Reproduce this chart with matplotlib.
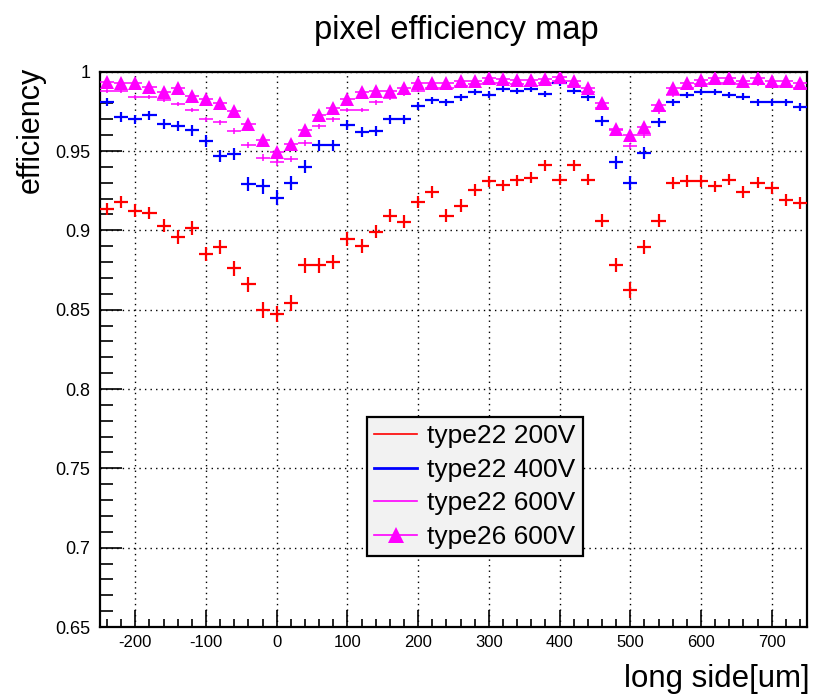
import numpy as np
import matplotlib
matplotlib.use("Agg")
import matplotlib.pyplot as plt
from matplotlib.lines import Line2D
from matplotlib.ticker import MultipleLocator, FixedLocator, FixedFormatter

plt.rcParams['font.family'] = ['Liberation Sans', 'DejaVu Sans']
plt.rcParams['axes.unicode_minus'] = False

# bin centres along the long pixel side [um]
position = np.arange(-240, 741, 20)

eff_t22_200 = [0.9135, 0.918, 0.9125, 0.911, 0.903, 0.8956, 0.9015, 0.885, 0.8897, 0.876,
               0.866, 0.8498, 0.8475, 0.8544, 0.878, 0.878, 0.880, 0.8946, 0.8903, 0.8992,
               0.9093, 0.9055, 0.9177, 0.924, 0.9093, 0.9156, 0.9256, 0.9308, 0.9283, 0.9315,
               0.9332, 0.941, 0.9319, 0.941, 0.9319, 0.9061, 0.8781, 0.8623, 0.8897, 0.9061,
               0.9298, 0.931, 0.931, 0.9277, 0.9319, 0.924, 0.930, 0.9266, 0.9192, 0.9173]

eff_t22_400 = [0.981, 0.9715, 0.970, 0.9726, 0.9669, 0.9656, 0.963, 0.9563, 0.9468, 0.9483,
               0.929, 0.9277, 0.9205, 0.9298, 0.940, 0.9536, 0.9536, 0.9663, 0.962, 0.9627,
               0.9699, 0.9699, 0.9783, 0.982, 0.9806, 0.9838, 0.9873, 0.9855, 0.989, 0.9878,
               0.989, 0.986, 0.9926, 0.9878, 0.984, 0.969, 0.943, 0.9298, 0.9488, 0.968,
               0.9806, 0.9853, 0.987, 0.9873, 0.9853, 0.9842, 0.9806, 0.9806, 0.9806, 0.9779]

eff_t22_600 = [0.9878, 0.9878, 0.9842, 0.9842, 0.982, 0.9796, 0.9758, 0.970, 0.968, 0.9627,
               0.9536, 0.9458, 0.943, 0.945, 0.955, 0.9656, 0.970, 0.9758, 0.9758, 0.9806,
               0.9832, 0.986, 0.988, 0.990, 0.990, 0.991, 0.992, 0.993, 0.993, 0.992,
               0.991, 0.993, 0.994, 0.991, 0.987, 0.977, 0.963, 0.953, 0.960, 0.975,
               0.985, 0.990, 0.992, 0.993, 0.993, 0.992, 0.992, 0.991, 0.991, 0.990]

eff_t26_600 = [0.9937, 0.993, 0.993, 0.9905, 0.987, 0.9895, 0.9846, 0.983, 0.980, 0.975,
               0.967, 0.957, 0.9494, 0.9547, 0.963, 0.9726, 0.977, 0.9825, 0.9873, 0.988,
               0.988, 0.9895, 0.993, 0.993, 0.9926, 0.9943, 0.9943, 0.9958, 0.9954, 0.9947,
               0.9947, 0.9954, 0.9964, 0.994, 0.990, 0.9804, 0.964, 0.960, 0.965, 0.979,
               0.9895, 0.993, 0.9947, 0.9958, 0.9958, 0.9943, 0.9958, 0.9943, 0.9943, 0.993]

# tracks per bin for each run, used for the binomial uncertainty
tracks_t22_200 = 5000
tracks_t22_400 = 3300
tracks_t22_600 = 11000
tracks_t26_600 = 11000

labels = ["type22 200V", "type22 400V", "type22 600V", "type26 600V"]
xtick_vals = [-200, -100, 0, 100, 200, 300, 400, 500, 600, 700]
ytick_vals = [0.65, 0.7, 0.75, 0.8, 0.85, 0.9, 0.95, 1.0]
ytick_text = ["0.65", "0.7", "0.75", "0.8", "0.85", "0.9", "0.95", "1"]

half_bin = 10


def binom_err(eff, n):
    e = np.asarray(eff)
    return np.sqrt(e * (1 - e) / n)


W, H = 815, 695
fig = plt.figure(figsize=(W / 100, H / 100), dpi=100)
ax = fig.add_axes([100 / W, 1 - 627 / H, 707 / W, (627 - 71.7) / H])

ax.set_xlim(-250, 750)
ax.set_ylim(0.65, 1.0)

# dotted grid at major ticks
ax.grid(True, which='major', color='black', linestyle=(0, (1, 3)), linewidth=1.0)
ax.set_axisbelow(True)

ax.errorbar(position, eff_t22_200, xerr=half_bin, yerr=binom_err(eff_t22_200, tracks_t22_200),
            fmt='none', ecolor='#ff0000', elinewidth=1.6, capsize=0, zorder=3)
ax.errorbar(position, eff_t22_400, xerr=half_bin, yerr=binom_err(eff_t22_400, tracks_t22_400),
            fmt='none', ecolor='#0000ff', elinewidth=1.6, capsize=0, zorder=3)
ax.errorbar(position, eff_t22_600, xerr=half_bin, yerr=binom_err(eff_t22_600, tracks_t22_600),
            fmt='none', ecolor='#ff00ff', elinewidth=1.1, capsize=0, zorder=4)
ax.errorbar(position, eff_t26_600, xerr=half_bin, yerr=binom_err(eff_t26_600, tracks_t26_600),
            fmt='^', color='#ff00ff', ecolor='#ff00ff', markersize=10.5, markeredgewidth=0,
            elinewidth=1.1, capsize=0, zorder=5)

# ticks: inside, left and bottom only
ax.xaxis.set_major_locator(FixedLocator(xtick_vals))
ax.xaxis.set_minor_locator(MultipleLocator(20))
ax.yaxis.set_major_locator(FixedLocator(ytick_vals))
ax.yaxis.set_major_formatter(FixedFormatter(ytick_text))
ax.yaxis.set_minor_locator(MultipleLocator(0.01))
ax.tick_params(axis='x', which='major', direction='in', length=12, width=1.2,
               labelsize=12, pad=6, top=False)
ax.tick_params(axis='x', which='minor', direction='in', length=6, width=1.2, top=False)
ax.tick_params(axis='y', which='major', direction='in', length=16, width=1.2,
               labelsize=13, pad=7, right=False)
ax.tick_params(axis='y', which='minor', direction='in', length=9, width=1.2, right=False)
for s in ax.spines.values():
    s.set_linewidth(1.6)
    s.set_color('black')

fig.text(456 / W, 1 - 30 / H, "pixel efficiency map", ha='center', va='center', fontsize=23.5)
fig.text(31 / W, 1 - 67 / H, "efficiency", rotation=90, ha='center', va='top', fontsize=22)
fig.text(810 / W, 1 - 679 / H, "long side[um]", ha='right', va='center', fontsize=22.5)

handles = [
    Line2D([], [], color='#ff0000', lw=1.2),
    Line2D([], [], color='#0000ff', lw=2.0),
    Line2D([], [], color='#ff00ff', lw=1.2),
    Line2D([], [], color='#ff00ff', lw=1.2, marker='^', markersize=11, markeredgewidth=0),
]
leg = ax.legend(handles, labels, loc='upper left',
                bbox_to_anchor=(367 / W, 1 - 417 / H), bbox_transform=fig.transFigure,
                borderaxespad=0, fontsize=19, handlelength=1.6, handletextpad=0.4,
                labelspacing=0.36, borderpad=0.28, fancybox=False, framealpha=1)
leg.get_frame().set_facecolor('#f2f2f2')
leg.get_frame().set_edgecolor('black')
leg.get_frame().set_linewidth(1.6)

fig.savefig("out.png", dpi=100)
